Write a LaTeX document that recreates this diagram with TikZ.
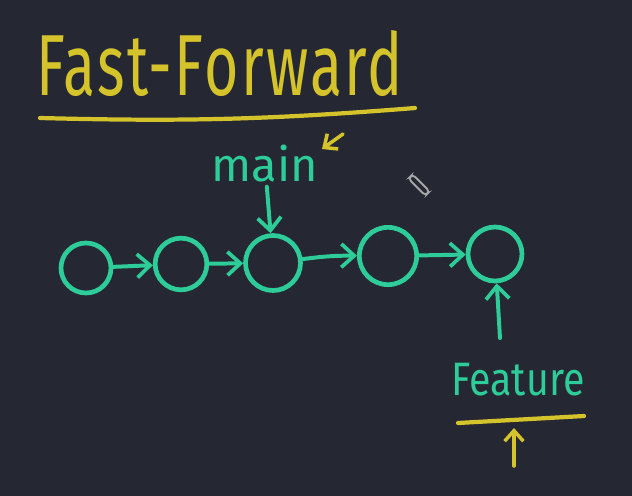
\documentclass[tikz,border=0pt]{standalone}
\usepackage{fontspec}
\setmainfont{Fira Sans}
\usetikzlibrary{arrows.meta}

\definecolor{board}{HTML}{252833}
\definecolor{ffyellow}{HTML}{D4C32A}
\definecolor{ffgreen}{HTML}{2DCC98}

\tikzset{
  commit/.style={circle, draw=ffgreen, line width=4pt, inner sep=0pt},
  link/.style={draw=ffgreen, line width=3.4pt, line cap=round, -{Straight Barb[length=11pt,width=20pt,line width=3.2pt]}},
  yellowlink/.style={draw=ffyellow, line width=3pt, line cap=round, -{Straight Barb[length=9pt,width=16pt,line width=3pt]}},
  scrawl/.style={draw=ffyellow, line width=3.6pt, line cap=round}
}

\begin{document}
\begin{tikzpicture}[x=0.03cm, y=-0.03cm]

\fill[board] (0,0) rectangle (632,496);
\useasboundingbox (0,0) rectangle (632,496);

% title
\node[ffyellow, font=\fontsize{74}{80}\selectfont\addfontfeature{LetterSpace=4}, anchor=base west, xscale=0.68, inner sep=0pt] (title) at (36,95) {Fast-Forward};
\coordinate (titleL) at (40,118);
\coordinate (titleR) at (415,108);
\draw[scrawl] (titleL) to[bend right=3] (titleR);

% commits
\node[commit, minimum size=1.5cm] (c1) at (86,268) {};
\node[commit, minimum size=1.55cm] (c2) at (181,264) {};
\node[commit, minimum size=1.65cm] (c3) at (273,263) {};
\node[commit, minimum size=1.72cm] (c4) at (388,256) {};
\node[commit, minimum size=1.62cm] (c5) at (495,254) {};

\draw[link] (c1) -- (c2);
\draw[link] (c2) -- (c3);
\draw[link] (c3) to[bend left=4] (c4);
\draw[link] (c4) -- (c5);

% main pointer
\node[ffgreen, font=\fontsize{40}{44}\selectfont] (main) at (265,164) {main};
\draw[link] (main) -- (c3);
\coordinate (hintA) at (343,134);
\coordinate (hintB) at (322,149);
\draw[yellowlink] (hintA) -- (hintB);

% cursor clip
\draw[gray!70, line width=1.6pt, rounded corners=3pt, rotate around={-45:(419,185)}] (407,182) rectangle (431,188);

% feature pointer
\node[ffgreen, font=\fontsize{40}{44}\selectfont, xscale=0.84] (feature) at (518,380) {Feature};
\coordinate (featTop) at (500,338);
\draw[link] (featTop) -- (c5);
\coordinate (featL) at (458,423);
\coordinate (featR) at (584,416);
\draw[scrawl] (featL) -- (featR);
\coordinate (featB) at (514,466);
\coordinate (featU) at (514,428);
\draw[yellowlink] (featB) -- (featU);

\end{tikzpicture}
\end{document}
